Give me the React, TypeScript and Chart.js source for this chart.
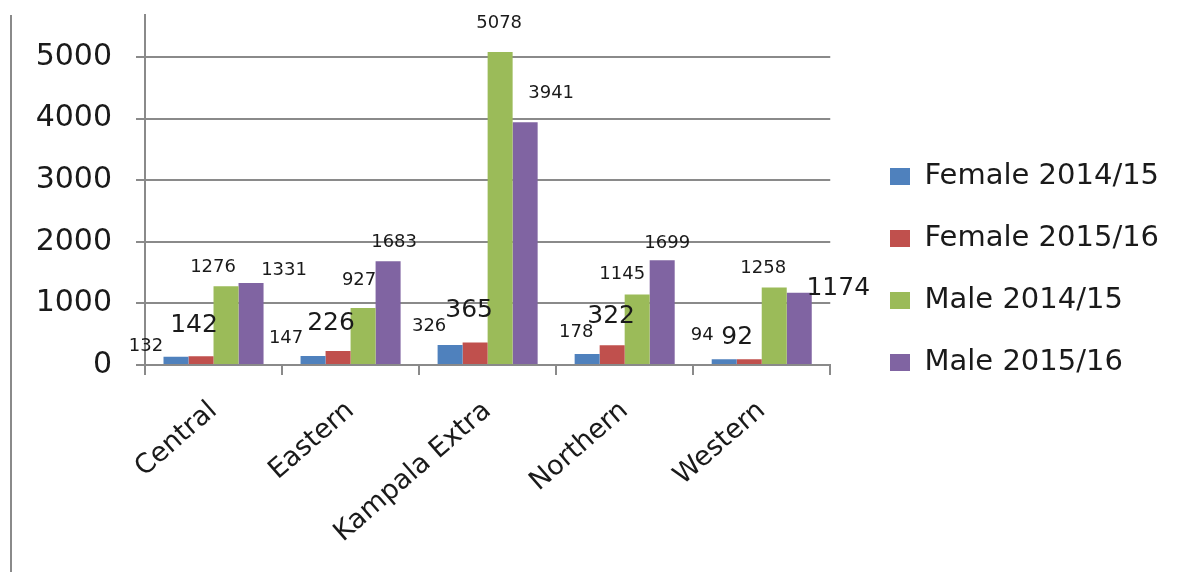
import React, { useEffect, useRef } from "react";
import { Chart, registerables } from "chart.js";

Chart.register(...registerables);

// ---- data ----
const categories = ["Central", "Eastern", "Kampala Extra", "Northern", "Western"];
const female1415 = [132, 147, 326, 178, 94];
const female1516 = [142, 226, 365, 322, 92];
const male1415 = [1276, 927, 5078, 1145, 1258];
const male1516 = [1331, 1683, 3941, 1699, 1174];
const seriesNames = ["Female 2014/15", "Female 2015/16", "Male 2014/15", "Male 2015/16"];
const yTickValues = [0, 1000, 2000, 3000, 4000, 5000];

// ---- styles ----
const seriesColors = ["#4F81BD", "#C0504D", "#9BBB59", "#8064A2"];
const GRID = "#8a8a8a";
const TEXT = "#1a1a1a";
const FONT = "'DejaVu Sans', sans-serif";
const LEGEND_PAD = 33;
// data label offsets (px) relative to top-centre of each bar, per series / category
const labelDx = [
  [-30, -27, -21, -11, -22],
  [-7, -7, -6, -1, -12],
  [-13, -4, -1, -15, -11],
  [33, 6, 26, 5, 39],
];
const labelDy = [
  [-11, -18, -19, -22, -24],
  [-31, -28, -32, -29, -22],
  [-19, -28, -29, -20, -19],
  [-13, -19, -29, -17, -4],
];
const labelLarge = [
  [false, false, false, false, false],
  [true, true, true, true, true],
  [false, false, false, false, false],
  [false, false, false, false, true],
];

const dataLabelPlugin = {
  id: "dataLabels",
  afterDatasetsDraw(chart: any) {
    const ctx = chart.ctx;
    ctx.save();
    ctx.fillStyle = TEXT;
    ctx.textAlign = "center";
    ctx.textBaseline = "middle";
    chart.data.datasets.forEach((ds: any, si: number) => {
      const meta = chart.getDatasetMeta(si);
      meta.data.forEach((el: any, i: number) => {
        ctx.font = (labelLarge[si][i] ? "25px " : "18px ") + FONT;
        ctx.fillText(String(ds.data[i]), el.x + labelDx[si][i], el.y + labelDy[si][i]);
      });
    });
    ctx.restore();
  },
};

const framePlugin = {
  id: "frame",
  beforeDraw(chart: any) {
    const ctx = chart.ctx;
    ctx.save();
    ctx.strokeStyle = GRID;
    ctx.lineWidth = 2;
    ctx.beginPath();
    ctx.moveTo(11, 15);
    ctx.lineTo(11, chart.height);
    ctx.stroke();
    ctx.restore();
  },
};

const legendShiftPlugin = {
  id: "legendShift",
  afterLayout(chart: any) {
    const lg = chart.legend;
    if (!lg) return;
    const dx = 890 - (lg.left + LEGEND_PAD);
    lg.left += dx;
    lg.right = chart.width;
    lg.width = lg.right - lg.left;
    lg.top -= 24;
    lg.bottom -= 24;
  },
};

export default function App() {
  const canvasRef = useRef<HTMLCanvasElement | null>(null);

  useEffect(() => {
    if (!canvasRef.current) return;
    const seriesValues = [female1415, female1516, male1415, male1516];
    const chart = new Chart(canvasRef.current, {
      type: "bar",
      data: {
        labels: categories,
        datasets: seriesNames.map((name, i) => ({
          label: name,
          data: seriesValues[i],
          backgroundColor: seriesColors[i],
          borderWidth: 0,
          categoryPercentage: 0.73,
          barPercentage: 1,
        })),
      },
      options: {
        responsive: false,
        animation: false,
        devicePixelRatio: 1,
        layout: { padding: { top: 15, left: 0, right: 87, bottom: 0 } },
        plugins: {
          tooltip: { enabled: false },
          legend: {
            position: "right",
            labels: {
              boxWidth: 20,
              boxHeight: 17,
              padding: LEGEND_PAD,
              color: TEXT,
              font: { family: FONT, size: 29 },
            },
          },
        },
        scales: {
          x: {
            afterFit(scale: any) {
              scale.height = 572 - 365;
              scale.paddingLeft = 0;
              scale.paddingRight = 0;
            },
            grid: {
              display: true,
              drawOnChartArea: false,
              drawTicks: true,
              tickLength: 10,
              color: GRID,
              lineWidth: 2,
              offset: true,
            },
            border: { display: true, color: GRID, width: 2 },
            ticks: {
              color: TEXT,
              font: { family: FONT, size: 27 },
              maxRotation: 41,
              minRotation: 41,
              padding: 20,
              autoSkip: false,
            },
          },
          y: {
            min: 0,
            max: 5680,
            afterFit(scale: any) {
              scale.width = 145;
              scale.paddingTop = 0;
              scale.paddingBottom = 0;
            },
            afterBuildTicks(scale: any) {
              scale.ticks = yTickValues.map((v) => ({ value: v }));
            },
            grid: {
              color: GRID,
              lineWidth: 2,
              tickLength: 9,
            },
            border: { display: true, color: GRID, width: 2 },
            ticks: {
              color: TEXT,
              padding: 24,
              font: { family: FONT, size: 30 },
              callback: (v: any) => String(v),
            },
          },
        },
      },
      plugins: [dataLabelPlugin, framePlugin, legendShiftPlugin],
    });
    return () => chart.destroy();
  }, []);

  return (
    <div style={{ position: "absolute", left: 0, top: 0, width: 1194, height: 572, background: "#fff" }}>
      <canvas ref={canvasRef} width={1194} height={572} />
    </div>
  );
}
